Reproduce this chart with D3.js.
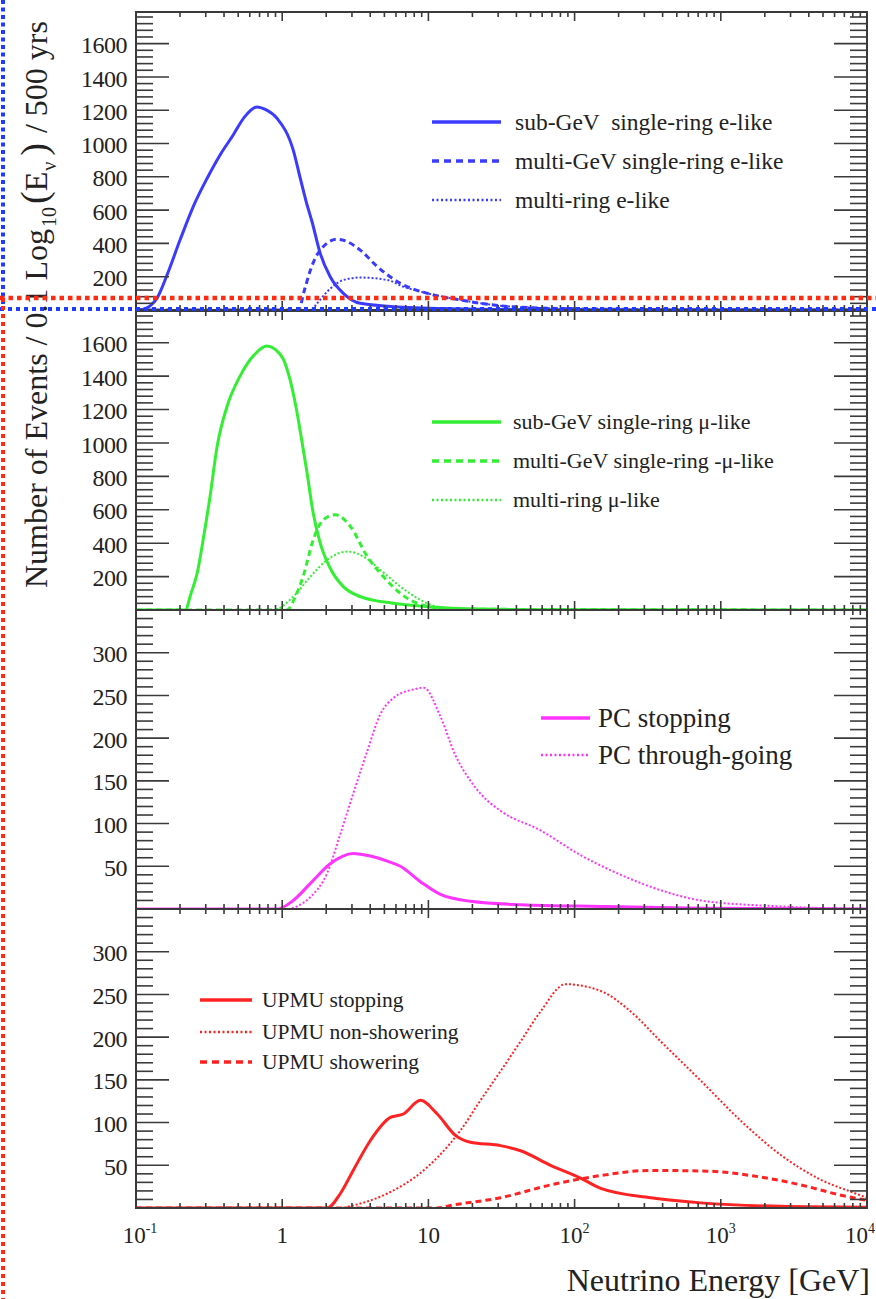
<!DOCTYPE html>
<html>
<head>
<meta charset="utf-8">
<script src="https://cdn.jsdelivr.net/npm/d3@7"></script>
<style>
  html, body { margin: 0; padding: 0; background: #fff; }
  svg { display: block; }
  text { font-family: "Liberation Serif", "DejaVu Serif", serif; fill: #222; white-space: pre; }
</style>
</head>
<body>
<svg id="chart" width="876" height="1299"></svg>
<script>
// ---------------- DATA (energies in GeV, values in events) ----------------
// Panel 1: e-like
const eSubGeV_E   = [0.1, 0.112, 0.125, 0.139, 0.163, 0.2, 0.246, 0.306, 0.375, 0.461, 0.553, 0.674, 0.766, 0.924, 1.19, 1.33, 1.46, 1.60, 1.82, 2.13, 2.62, 3.42, 5.76, 14.2, 68.5, 10000];
const eSubGeV_V   = [0, 5, 25, 70, 210, 420, 620, 790, 930, 1050, 1160, 1220, 1205, 1150, 960, 790, 650, 530, 340, 200, 100, 40, 20, 8, 2, 0];
const eMultiGeV_E = [0.1, 1.29, 1.42, 1.56, 1.82, 2.38, 2.71, 3.42, 4.48, 6.43, 9.85, 16.6, 27.9, 68.5, 332, 10000];
const eMultiGeV_V = [0, 0, 120, 240, 360, 425, 415, 360, 260, 160, 100, 60, 30, 10, 3, 0];
const eMultiRing_E = [0.1, 1.56, 1.77, 2.03, 2.62, 3.42, 5.24, 6.74, 9.85, 16.6, 27.9, 68.5, 332, 10000];
const eMultiRing_V = [0, 0, 50, 110, 180, 195, 180, 140, 100, 60, 30, 10, 3, 0];

// Panel 2: mu-like
const muSubGeV_E   = [0.1, 0.217, 0.238, 0.262, 0.288, 0.321, 0.359, 0.42, 0.515, 0.633, 0.789, 0.896, 1.02, 1.13, 1.24, 1.37, 1.48, 1.63, 1.82, 2.13, 2.62, 3.42, 5.76, 9.85, 22.7, 68.5, 10000];
const muSubGeV_V   = [0, 0, 100, 220, 420, 680, 980, 1220, 1400, 1520, 1580, 1560, 1500, 1380, 1220, 1000, 820, 580, 400, 250, 140, 80, 40, 20, 6, 2, 0];
const muMultiGeV_E = [0.1, 1.08, 1.23, 1.39, 1.63, 1.91, 2.31, 2.93, 3.82, 4.92, 6.43, 8.41, 14.2, 10000];
const muMultiGeV_V = [0, 0, 80, 200, 420, 540, 570, 500, 320, 200, 100, 40, 5, 0];
const muMultiRing_E = [0.1, 0.868, 1.19, 1.56, 2.03, 2.79, 3.59, 4.69, 6.43, 8.82, 11.5, 19.4, 10000];
const muMultiRing_V = [0, 0, 80, 200, 300, 350, 320, 240, 140, 60, 20, 3, 0];

// Panel 3: PC
const pcStop_E = [0.1, 0.924, 1.19, 1.56, 2.13, 3.06, 4.01, 5.24, 6.43, 8.82, 12.1, 19.4, 42.7, 151, 730, 10000];
const pcStop_V = [0, 0, 10, 30, 53, 65, 62, 56, 50, 32, 17, 9, 5, 3, 1, 0];
const pcThru_E = [0.1, 1.08, 1.33, 1.56, 2.03, 2.50, 3.06, 3.82, 4.69, 5.76, 7.89, 9.3, 12.1, 15.3, 19.4, 22.7, 31.1, 58.5, 110, 207, 388, 730, 2575, 10000];
const pcThru_V = [0, 0, 5, 14, 42, 88, 135, 185, 228, 247, 257, 259, 225, 180, 150, 135, 115, 92, 63, 40, 22, 10, 3, 0];

// Panel 4: UPMU
const upStop_E = [0.1, 2.03, 2.50, 3.06, 4.01, 5.49, 6.74, 8.82, 11.5, 15.3, 19.4, 31.1, 42.7, 68.5, 110, 151, 332, 730, 2575, 10000];
const upStop_V = [0, 0, 17, 44, 79, 106, 110, 126, 110, 85, 77, 73, 67, 50, 35, 23, 12, 6, 2, 1];
const upNonShow_E = [0.1, 2.50, 3.06, 5.24, 8.82, 11.5, 16.6, 22.7, 31.1, 42.7, 58.5, 86.7, 151, 242, 388, 730, 1372, 2575, 4842, 7766, 10000];
const upNonShow_V = [0, 0, 3, 17, 41, 59, 91, 126, 160, 195, 230, 262, 254, 230, 195, 149, 102, 62, 33, 19, 12];
const upShow_E = [0.1, 11.5, 14.2, 31.1, 68.5, 151, 332, 855, 1604, 3532, 6637, 10000];
const upShow_V = [0, 0, 3, 12, 27, 38, 44, 43, 38, 27, 15, 9];

// Axis tick values
const xMajorTicks = [0.1, 1, 10, 100, 1000, 10000];
const xMajorLabels = [["10", "-1"], ["1", ""], ["10", ""], ["10", "2"], ["10", "3"], ["10", "4"]];
const yLabelsBig = [200, 400, 600, 800, 1000, 1200, 1400, 1600];
const yLabelsSmall = [50, 100, 150, 200, 250, 300];

// Legend texts
const legendE  = ["sub-GeV  single-ring e-like", "multi-GeV single-ring e-like", "multi-ring e-like"];
const legendMu = ["sub-GeV single-ring \u03bc-like", "multi-GeV single-ring -\u03bc-like", "multi-ring \u03bc-like"];
const legendPC = ["PC stopping", "PC through-going"];
const legendUP = ["UPMU stopping", "UPMU non-showering", "UPMU showering"];

// ---------------- LAYOUT ----------------
const svg = d3.select("#chart");
const L = 136, R = 867;
const x = d3.scaleLog().domain([0.1, 10000]).range([L, R]);

const BLUE = "#3b3bff", GREEN = "#33ee33", MAGENTA = "#ff33ff", RED = "#ff2222";
const styles = {
  solid:  { w: 3,   dash: null },
  dashed: { w: 3,   dash: "6,4" },
  dotted: { w: 2,   dash: "2,2" }
};

const panels = [
  { top: 12,  bottom: 310, max: 1790, major: 200, minor: 40, labels: yLabelsBig,
    series: [
      { E: eSubGeV_E, V: eSubGeV_V, c: BLUE, s: "solid" },
      { E: eMultiGeV_E, V: eMultiGeV_V, c: BLUE, s: "dashed" },
      { E: eMultiRing_E, V: eMultiRing_V, c: BLUE, s: "dotted" }],
    legend: { names: legendE, x1: 432, x2: 501, tx: 515, ys: [122, 161, 200], fs: 23.5,
              styles: ["solid", "dashed", "dotted"], c: BLUE } },
  { top: 311, bottom: 610, max: 1790, major: 200, minor: 40, labels: yLabelsBig,
    series: [
      { E: muSubGeV_E, V: muSubGeV_V, c: GREEN, s: "solid" },
      { E: muMultiGeV_E, V: muMultiGeV_V, c: GREEN, s: "dashed" },
      { E: muMultiRing_E, V: muMultiRing_V, c: GREEN, s: "dotted" }],
    legend: { names: legendMu, x1: 432, x2: 501, tx: 513, ys: [422, 461, 500], fs: 22,
              styles: ["solid", "dashed", "dotted"], c: GREEN } },
  { top: 610, bottom: 909, max: 350, major: 50, minor: 10, labels: yLabelsSmall,
    series: [
      { E: pcStop_E, V: pcStop_V, c: MAGENTA, s: "solid" },
      { E: pcThru_E, V: pcThru_V, c: MAGENTA, s: "dotted" }],
    legend: { names: legendPC, x1: 541, x2: 590, tx: 598, ys: [718, 755], fs: 27,
              styles: ["solid", "dotted"], c: MAGENTA } },
  { top: 909, bottom: 1208, max: 350, major: 50, minor: 10, labels: yLabelsSmall,
    series: [
      { E: upStop_E, V: upStop_V, c: RED, s: "solid" },
      { E: upNonShow_E, V: upNonShow_V, c: RED, s: "dotted" },
      { E: upShow_E, V: upShow_V, c: RED, s: "dashed" }],
    legend: { names: legendUP, x1: 200, x2: 252, tx: 262, ys: [1000, 1032, 1062], fs: 21.5,
              styles: ["solid", "dotted", "dashed"], c: RED } }
];

const AX = "#3a3a3a";
const minorX = [];
for (let d = -1; d < 4; d++) for (let k = 2; k <= 9; k++) minorX.push(k * Math.pow(10, d));

panels.forEach((p, i) => {
  const y = d3.scaleLinear().domain([0, p.max]).range([p.bottom, p.top]);
  const g = svg.append("g");

  // curves (clipped to panel)
  const cid = "clip" + i;
  svg.append("clipPath").attr("id", cid).append("rect")
    .attr("x", L).attr("y", p.top - 2).attr("width", R - L).attr("height", p.bottom - p.top + 2);
  const line = d3.line().x(d => x(d[0])).y(d => y(d[1])).curve(d3.curveMonotoneX);
  p.series.forEach(s => {
    const pts = s.E.map((e, j) => [e, s.V[j]]);
    const st = styles[s.s];
    g.append("path").attr("clip-path", `url(#${cid})`)
      .attr("d", line(pts)).attr("fill", "none").attr("stroke", s.c)
      .attr("stroke-width", st.w).attr("stroke-dasharray", st.dash)
      .attr("stroke-linejoin", "round");
  });

  // y ticks (left and right)
  const majors = d3.range(p.major, p.max, p.major);
  const minors = d3.range(p.minor, p.max, p.minor).filter(v => v % p.major !== 0);
  majors.forEach(v => {
    g.append("line").attr("x1", L).attr("x2", L + 33).attr("y1", y(v)).attr("y2", y(v))
      .attr("stroke", AX).attr("stroke-width", 1.6);
    g.append("line").attr("x1", R).attr("x2", R - 33).attr("y1", y(v)).attr("y2", y(v))
      .attr("stroke", AX).attr("stroke-width", 1.6);
  });
  minors.forEach(v => {
    g.append("line").attr("x1", L).attr("x2", L + 17).attr("y1", y(v)).attr("y2", y(v))
      .attr("stroke", AX).attr("stroke-width", 1.6);
    g.append("line").attr("x1", R).attr("x2", R - 17).attr("y1", y(v)).attr("y2", y(v))
      .attr("stroke", AX).attr("stroke-width", 1.6);
  });
  p.labels.forEach(v => {
    g.append("text").attr("x", 127).attr("y", y(v)).attr("dy", "0.4em")
      .attr("text-anchor", "end").attr("font-size", 24).attr("letter-spacing", -0.5)
      .text(v);
  });

  // x ticks (bottom and top, inward)
  [[p.bottom, -1], [p.top, 1]].forEach(([yy, dir]) => {
    xMajorTicks.forEach(v => {
      g.append("line").attr("x1", x(v)).attr("x2", x(v)).attr("y1", yy).attr("y2", yy + dir * 9)
        .attr("stroke", AX).attr("stroke-width", 1.6);
    });
    minorX.forEach(v => {
      g.append("line").attr("x1", x(v)).attr("x2", x(v)).attr("y1", yy).attr("y2", yy + dir * 5)
        .attr("stroke", AX).attr("stroke-width", 1.6);
    });
  });

  // frame
  g.append("rect").attr("x", L).attr("y", p.top).attr("width", R - L).attr("height", p.bottom - p.top)
    .attr("fill", "none").attr("stroke", AX).attr("stroke-width", 2);

  // legend
  const lg = p.legend;
  lg.names.forEach((n, j) => {
    const st = styles[lg.styles[j]];
    g.append("line").attr("x1", lg.x1).attr("x2", lg.x2).attr("y1", lg.ys[j]).attr("y2", lg.ys[j])
      .attr("stroke", lg.c).attr("stroke-width", st.w + 0.5)
      .attr("stroke-dasharray", lg.styles[j] === "dashed" ? "7,5" : (lg.styles[j] === "dotted" ? "2,2.5" : null));
    g.append("text").attr("x", lg.tx).attr("y", lg.ys[j]).attr("dy", "0.33em")
      .attr("font-size", lg.fs).attr("fill", "#262626").text(n);
  });
});

// x tick labels
xMajorTicks.forEach((v, i) => {
  const last = i === xMajorTicks.length - 1;
  const t = svg.append("text").attr("x", last ? 875 : x(v) + (i === 0 ? 4 : 0)).attr("y", 1243)
    .attr("text-anchor", last ? "end" : "middle").attr("font-size", 23);
  t.append("tspan").text(xMajorLabels[i][0]);
  if (xMajorLabels[i][1]) {
    t.append("tspan").attr("font-size", 14).attr("dy", -10).text(xMajorLabels[i][1]);
  }
});

// axis titles
svg.append("text").attr("x", 870).attr("y", 1291).attr("text-anchor", "end")
  .attr("font-size", 32).text("Neutrino Energy [GeV]");

const yt = svg.append("text").attr("transform", "translate(47,588) rotate(-90)")
  .attr("font-size", 32);
yt.append("tspan").text("Number of Events / 0.1 Log");
yt.append("tspan").attr("font-size", 20).attr("dx", 2).attr("dy", 9).text("10");
yt.append("tspan").attr("font-size", 38).attr("dx", 3).attr("dy", -9).text("(");
yt.append("tspan").text("E");
yt.append("tspan").attr("font-size", 20).attr("dx", 1).attr("dy", 9).text("\u03bd");
yt.append("tspan").attr("font-size", 38).attr("dx", 6).attr("dy", -9).text(")");
yt.append("tspan").attr("dx", 2).text(" / 500 yrs");

// dotted annotation boxes
svg.append("line").attr("x1", 3).attr("x2", 3).attr("y1", 0).attr("y2", 310)
  .attr("stroke", "#1e3cff").attr("stroke-width", 4).attr("stroke-dasharray", "4,3.5");
svg.append("line").attr("x1", 0).attr("x2", 876).attr("y1", 309).attr("y2", 309)
  .attr("stroke", "#1e3cff").attr("stroke-width", 4).attr("stroke-dasharray", "4,4");
svg.append("line").attr("x1", 0).attr("x2", 876).attr("y1", 298).attr("y2", 298)
  .attr("stroke", "#ff2a10").attr("stroke-width", 4.5).attr("stroke-dasharray", "4.5,4");
svg.append("line").attr("x1", 3).attr("x2", 3).attr("y1", 298).attr("y2", 1299)
  .attr("stroke", "#ff2a10").attr("stroke-width", 4).attr("stroke-dasharray", "4,4");
</script>
</body>
</html>
